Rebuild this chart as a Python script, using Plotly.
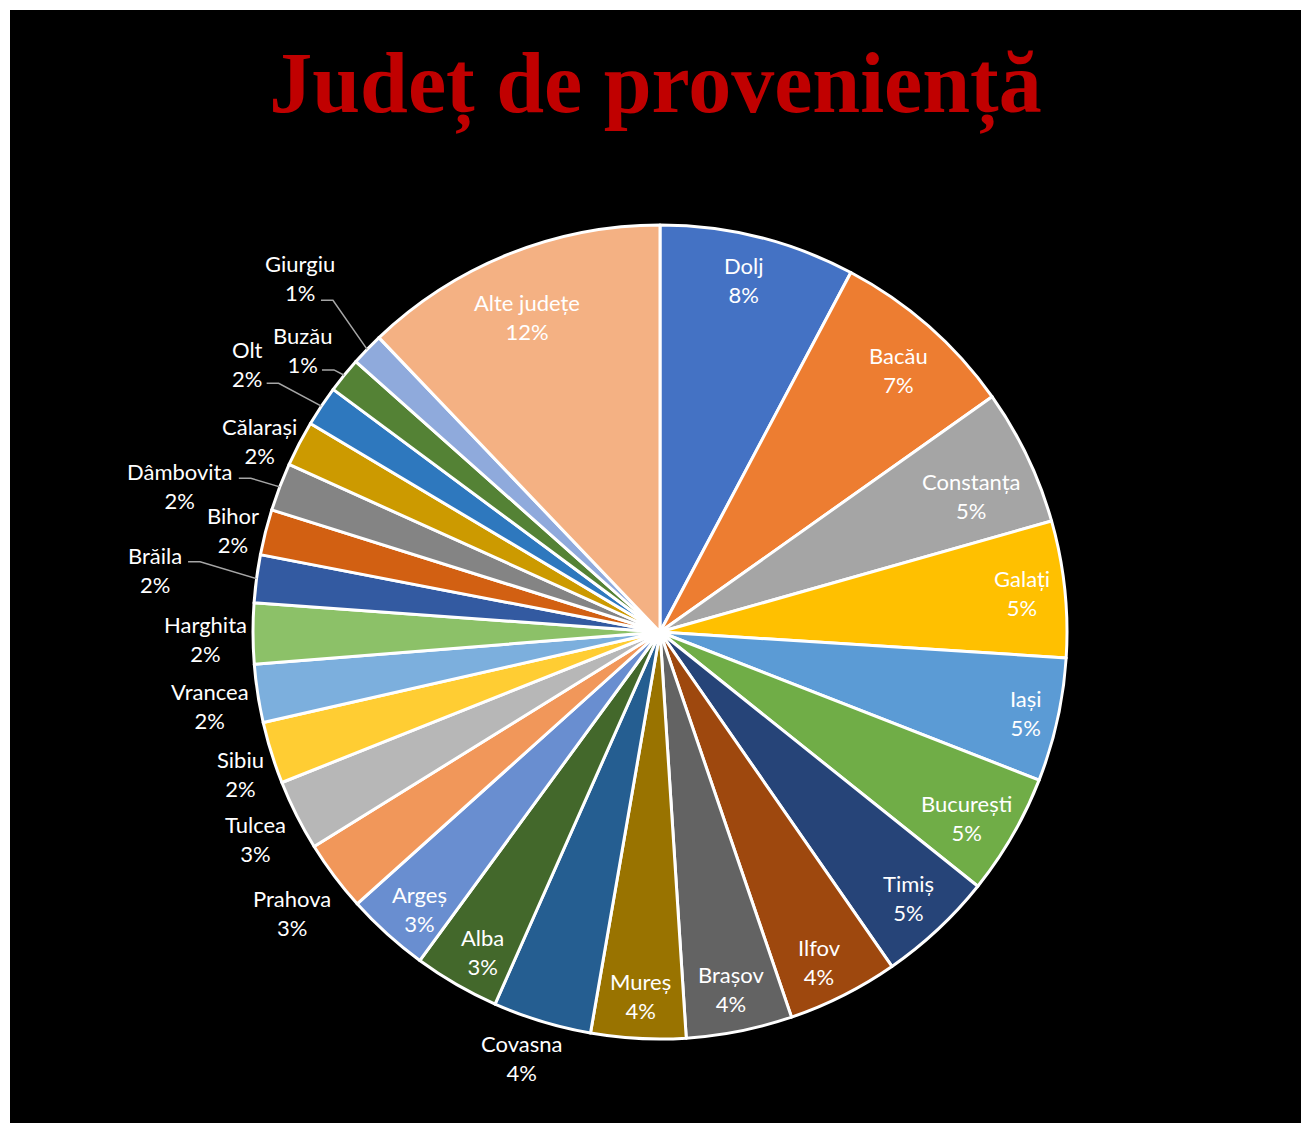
import math
import plotly.graph_objects as go

# ---------------- data ----------------
labels = ["Dolj", "Bacău", "Constanța", "Galați", "Iași", "București", "Timiș", "Ilfov",
          "Brașov", "Mureș", "Covasna", "Alba", "Argeș", "Prahova", "Tulcea", "Sibiu",
          "Vrancea", "Harghita", "Brăila", "Bihor", "Dâmbovita", "Călarași", "Olt",
          "Buzău", "Giurgiu", "Alte județe"]
values = [7.75, 7.4, 5.4, 5.4, 4.9, 4.8, 4.6, 4.4,
          4.2, 3.75, 3.9, 3.4, 3.3, 2.8, 2.8, 2.45,
          2.3, 2.4, 1.9, 1.8, 1.9, 1.8, 1.6,
          1.4, 1.3, 12.1]
colors = ["#4472C4", "#ED7D31", "#A5A5A5", "#FFC000", "#5B9BD5", "#70AD47", "#264478", "#9E480E",
          "#636363", "#997300", "#255E91", "#43682B", "#698ED0", "#F1975A", "#B7B7B7", "#FFCD33",
          "#7CAFDD", "#8CC168", "#335AA1", "#D26012", "#848484", "#CC9A00", "#2E78BE",
          "#548235", "#8FAADC", "#F4B183"]

# ---------------- label styling ----------------
# (radial distance as fraction of radius, angular nudge in degrees) for each label centre
inside_default = (0.895, 0.0)
inside_pos = {"Alte județe": (0.84, -1.0), "Constanța": (0.835, 2.0), "Iași": (0.92, 0.0),
              "Bacău": (0.87, 1.0), "București": (0.88, 1.2), "Ilfov": (0.9, 1.0),
              "Alba": (0.9, -1.0), "Argeș": (0.9, -1.2), "Dolj": (0.89, -0.6)}
outside_pos = {"Covasna": (1.10, 1.2), "Prahova": (1.136, -0.5), "Tulcea": (1.116, -0.4),
               "Sibiu": (1.089, -1.4), "Vrancea": (1.12, -0.6), "Harghita": (1.118, -0.6),
               "Brăila": (1.25, -0.5), "Bihor": (1.079, -0.8), "Dâmbovita": (1.233, -4.0),
               "Călarași": (1.09, -2.1), "Olt": (1.208, -0.7), "Buzău": (1.118, -0.8),
               "Giurgiu": (1.24, 0.5)}
# leader line start, px offset from the label centre (x right, y down)
leader_anchor = {"Giurgiu": (21, 22), "Buzău": (19, 20), "Olt": (19, 19),
                 "Dâmbovita": (59, -8), "Brăila": (33, -8)}
STUB = 12

W, H = 1291, 1113
ML, MR, MT, MB = 243, 234, 215, 84
PW = W - ML - MR  # square plot area, px

fig = go.Figure(go.Pie(
    labels=labels,
    values=values,
    sort=False,
    direction="clockwise",
    rotation=0,
    marker=dict(colors=colors, line=dict(color="white", width=3)),
    textinfo="none",
    showlegend=False,
    hoverinfo="label+percent",
))

total = sum(values)
cum = 0.0
annotations = []
shapes = []
font = dict(family="Lato", size=22, color="white")


def polar(theta_deg, k):
    t = math.radians(theta_deg)
    return 0.5 + 0.5 * k * math.sin(t), 0.5 + 0.5 * k * math.cos(t)


for lab, v in zip(labels, values):
    mid = (cum + v / 2) / total * 360.0
    cum += v
    pct = round(v / total * 100)
    txt = f"{lab}<br>{pct}%"
    if lab in outside_pos:
        k, dt = outside_pos[lab]
    else:
        k, dt = inside_pos.get(lab, inside_default)
    x, y = polar(mid + dt, k)
    if lab in leader_anchor:
        axp, ayp = leader_anchor[lab]
        sx, sy = x + axp / PW, y - ayp / PW
        bx = sx + STUB / PW
        ex, ey = polar(mid, 1.0)
        shapes.append(dict(type="path", xref="paper", yref="paper",
                           path=f"M {sx},{sy} L {bx},{sy} L {ex},{ey}",
                           line=dict(color="#A6A6A6", width=1.5)))
    annotations.append(dict(x=x, y=y, xref="paper", yref="paper", text=txt,
                            showarrow=False, font=font, align="center",
                            xanchor="center", yanchor="middle"))

fig.update_layout(
    width=W, height=H,
    paper_bgcolor="black",
    plot_bgcolor="black",
    margin=dict(l=ML, r=MR, t=MT, b=MB),
    title=dict(
        text="<b>Județ de proveniență</b>",
        font=dict(family="Liberation Serif", size=86, color="#C00000"),
        x=0.5, xanchor="center",
        y=1 - 72 / H, yanchor="middle", yref="container",
    ),
    annotations=annotations,
    shapes=shapes,
)

fig.write_html("out.html",
               post_script="document.body.style.margin='10px 0 0 10px';document.body.style.overflow='hidden';")
